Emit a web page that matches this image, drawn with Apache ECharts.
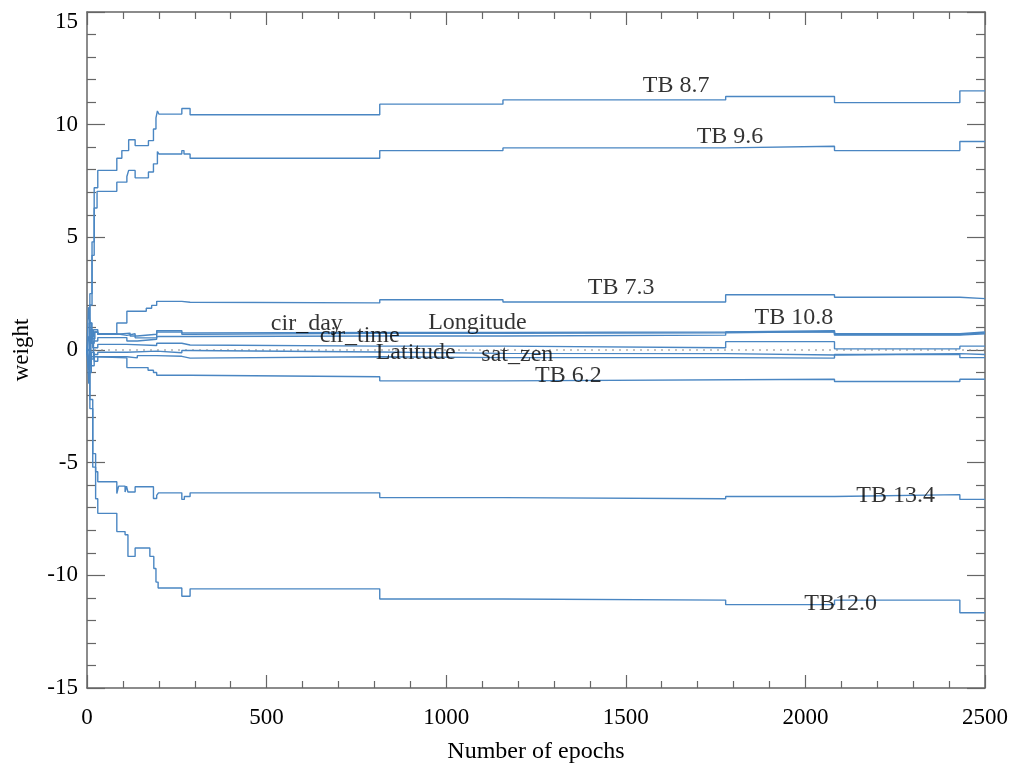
<!DOCTYPE html>
<html>
<head>
<meta charset="utf-8">
<script src="https://cdn.jsdelivr.net/npm/echarts@6/dist/echarts.min.js"></script>
<style>
html,body{margin:0;padding:0;background:#fff;}
#chart{width:1011px;height:769px;}
</style>
</head>
<body>
<div id="chart"></div>
<script>
// Each series: [epoch, weight] pairs; value holds until the next epoch (step).
const tb87 = [[0,0],[8,2.5],[14,4.8],[20,7.2],[30,7.97],[83,8.51],[97,8.85],[116,9.33],[134,9.07],[171,9.29],[185,9.81],[192,10.3],[196,10.61],[200,10.47],[264,10.72],[287,10.44],[815,10.91],[1158,11.10],[1778,11.25],[2081,10.98],[2430,11.50],[2500,11.50]];
const tb96 = [[0,0],[8,2.0],[14,4.2],[20,6.3],[28,7.04],[83,7.45],[111,7.7],[116,7.97],[134,7.64],[171,7.90],[185,8.26],[196,8.81],[200,8.70],[264,8.85],[270,8.70],[287,8.51],[815,8.85],[1158,8.97],[1778,9.04],[2081,8.85],[2430,9.25],[2500,9.25]];
const tb73 = [[0,0],[4,1.9],[8,1.2],[14,0.5],[22,0.8],[30,0.7],[83,1.2],[111,1.72],[165,1.85],[180,1.98],[194,2.16],[264,2.12],[287,2.09],[815,2.23],[1158,2.13],[1778,2.45],[2081,2.34],[2430,2.28],[2500,2.28]];
const tb108 = [[0,0],[5,-0.9],[10,0.6],[18,0.9],[30,0.72],[83,0.65],[111,0.72],[134,0.54],[194,0.86],[264,0.76],[287,0.78],[815,0.78],[1158,0.80],[1778,0.86],[2081,0.72],[2430,0.80],[2500,0.80]];
const cirDay = [[0,0],[6,1.2],[12,0.3],[20,0.8],[30,0.70],[83,0.75],[120,0.62],[140,0.70],[194,0.80],[264,0.70],[287,0.74],[815,0.74],[1158,0.76],[1778,0.82],[2081,0.69],[2430,0.76],[2500,0.76]];
const longitude = [[0,0],[5,-1.5],[10,-0.4],[18,0.4],[30,0.55],[111,0.40],[140,0.48],[194,0.60],[287,0.62],[815,0.62],[1158,0.66],[1778,0.80],[2081,0.66],[2430,0.72],[2500,0.72]];
const cirTime = [[0,0],[4,-0.8],[9,0.9],[16,0.1],[30,0.25],[111,0.20],[194,0.30],[264,0.22],[287,0.17],[815,0.17],[1158,0.10],[1778,0.37],[2081,0.05],[2430,0.17],[2500,0.17]];
const latitude = [[0,0],[5,0.6],[11,-0.7],[20,-0.2],[30,-0.10],[111,-0.05],[194,-0.12],[264,-0.02],[287,-0.09],[815,-0.15],[1158,-0.16],[1778,-0.22],[2081,-0.16],[2430,-0.20],[2500,-0.20]];
const satZen = [[0,0],[6,-1.0],[12,-0.1],[20,-0.5],[30,-0.30],[111,-0.35],[140,-0.25],[194,-0.28],[264,-0.36],[287,-0.30],[815,-0.34],[1158,-0.34],[1778,-0.36],[2081,-0.20],[2430,-0.34],[2500,-0.34]];
const tb62 = [[0,0],[5,-0.6],[12,-0.3],[30,-0.35],[111,-0.78],[170,-0.90],[185,-1.00],[194,-1.12],[287,-1.19],[815,-1.37],[1158,-1.30],[2081,-1.40],[2430,-1.30],[2500,-1.30]];
const tb134 = [[0,0],[8,-2.2],[16,-4.6],[24,-5.4],[30,-5.85],[83,-6.37],[88,-6.04],[106,-6.30],[110,-6.04],[114,-6.30],[134,-6.07],[185,-6.59],[194,-6.45],[199,-6.34],[264,-6.63],[271,-6.50],[287,-6.34],[815,-6.55],[1158,-6.60],[1778,-6.50],[2081,-6.42],[2430,-6.63],[2500,-6.63]];
const tb120 = [[0,0],[8,-2.6],[16,-5.2],[24,-6.6],[30,-7.25],[83,-8.06],[106,-8.20],[114,-9.16],[134,-8.79],[175,-9.16],[186,-9.70],[192,-10.30],[198,-10.56],[264,-10.93],[287,-10.60],[815,-11.05],[1158,-11.10],[1778,-11.30],[2081,-11.10],[2430,-11.66],[2500,-11.66]];
const zeroLine = [[0,0],[2500,0]];

// Annotation labels
const labelNames  = ['TB 8.7','TB 9.6','TB 7.3','TB 10.8','cir_day','cir_time','Longitude','Latitude','sat_zen','TB 6.2','TB 13.4','TB12.0'];
const labelEpochs = [1640,1790,1487,1968,612,759,1087,915,1198,1340,2251,2098];
const labelValues = [11.75,9.45,2.75,1.42,1.16,0.63,1.2,-0.12,-0.2,-1.13,-6.47,-11.28];

// Axis ticks
const xTicks = [0,500,1000,1500,2000,2500];
const yTicks = [-15,-10,-5,0,5,10,15];

const seriesList = [tb87,tb96,tb73,tb108,cirDay,longitude,cirTime,latitude,satZen,tb62,tb134,tb120];
const seriesNames = ['TB 8.7','TB 9.6','TB 7.3','TB 10.8','cir_day','Longitude','cir_time','Latitude','sat_zen','TB 6.2','TB 13.4','TB12.0'];

const FONT = '"Liberation Serif", "DejaVu Serif", serif';
const AXC = '#666';
const LINEC = '#4a86c2';

const chart = echarts.init(document.getElementById('chart'), null, {renderer:'canvas'});

const series = seriesList.map((d,i)=>({
  name: seriesNames[i], type:'line', step:'end', data:d, showSymbol:false, symbol:'none',
  xAxisIndex:0, yAxisIndex:0,
  lineStyle:{color:LINEC, width:1.4}, z:3, silent:true
}));
series.push({
  name:'zero', type:'line', data:zeroLine, showSymbol:false, symbol:'none',
  lineStyle:{color:'#888', width:1.2, type:[2,5]}, z:2, silent:true
});
series.push({
  name:'labels', type:'scatter', symbolSize:0, z:10, silent:true,
  data: labelNames.map((n,i)=>({name:n, value:[labelEpochs[i], labelValues[i]]})),
  label:{show:true, position:'inside', formatter:p=>p.name, color:'#000', fontSize:24, fontFamily:FONT}
});

const xCommon = {
  type:'value', min:0, max:2500, interval:500,
  axisLine:{show:true, onZero:false, lineStyle:{color:AXC, width:1.5}},
  axisTick:{show:true, inside:true, length:13, lineStyle:{color:AXC, width:1.2}},
  minorTick:{show:true, splitNumber:5, length:7, lineStyle:{color:AXC, width:1.2}},
  splitLine:{show:false}
};
const yCommon = {
  type:'value', min:-15, max:15, interval:5,
  axisLine:{show:true, onZero:false, lineStyle:{color:AXC, width:1.5}},
  axisTick:{show:true, inside:true, length:18, lineStyle:{color:AXC, width:1.2}},
  minorTick:{show:true, splitNumber:5, length:9, lineStyle:{color:AXC, width:1.2}},
  splitLine:{show:false}
};

chart.setOption({
  animation:false,
  backgroundColor:'#fff',
  grid:{left:87, right:25, top:12, bottom:77, containLabel:false},
  xAxis:[
    Object.assign({}, xCommon, {
      position:'bottom',
      axisLabel:{show:true, margin:18, fontSize:23, fontFamily:FONT, color:'#000',
        formatter:v=> xTicks.includes(v) ? String(v) : ''},
      name:'Number of epochs', nameLocation:'middle', nameGap:52,
      nameTextStyle:{fontSize:24, fontFamily:FONT, color:'#000'}
    }),
    Object.assign({}, xCommon, {position:'top', axisLabel:{show:false}})
  ],
  yAxis:[
    Object.assign({}, yCommon, {
      position:'left',
      axisLabel:{show:true, margin:9, fontSize:23, fontFamily:FONT, color:'#000',
        formatter:v=> yTicks.includes(v) ? (v===15 ? '{top|15}' : String(v)) : '',
        rich:{top:{fontSize:23, fontFamily:FONT, color:'#000', padding:[20,0,0,0]}}},
      name:'weight', nameLocation:'middle', nameGap:54, nameRotate:90,
      nameTextStyle:{fontSize:23, fontFamily:FONT, color:'#000'}
    }),
    Object.assign({}, yCommon, {position:'right', axisLabel:{show:false}})
  ],
  series: series
});
</script>
</body>
</html>
